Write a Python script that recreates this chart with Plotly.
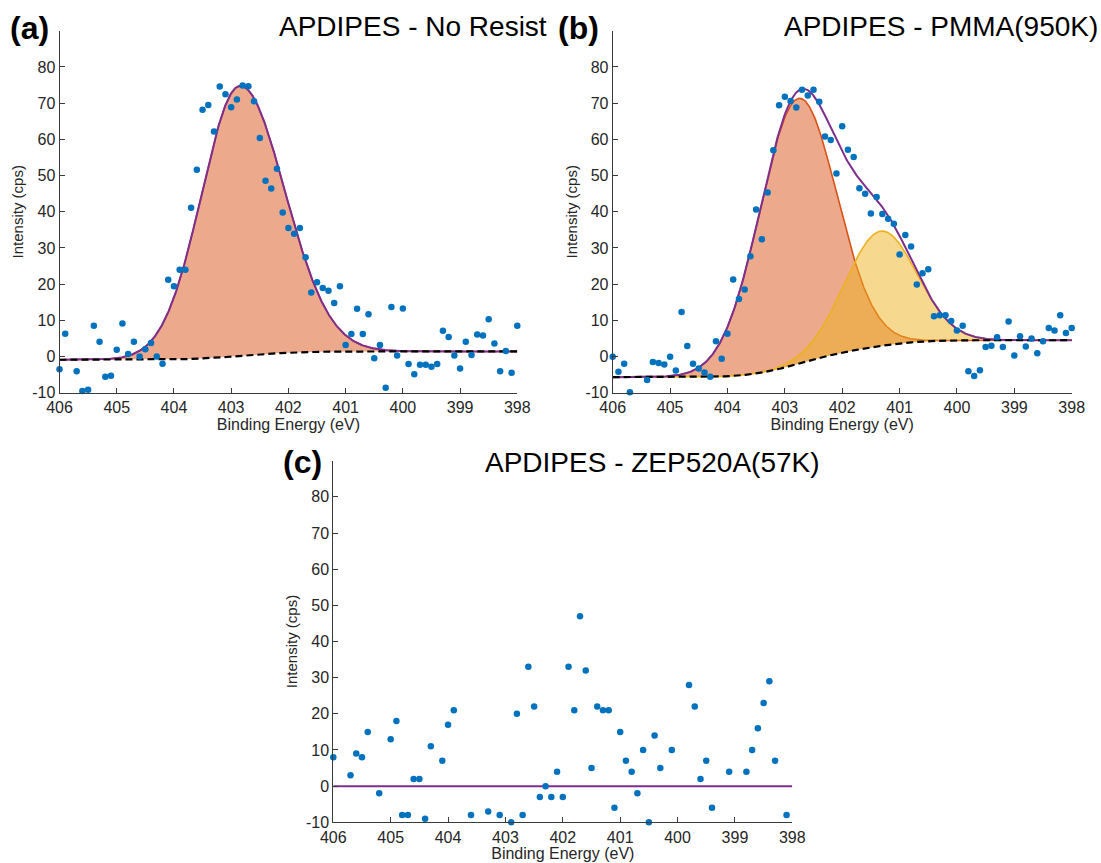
import numpy as np
import plotly.graph_objects as go

# ---------------------------------------------------------------------------
# N 1s spectra: measured points (binding energy in eV, intensity in cps)
# ---------------------------------------------------------------------------
be_a = [406.0, 405.9, 405.7, 405.6, 405.5, 405.4, 405.3, 405.2, 405.1, 405.0,
        404.9, 404.8, 404.7, 404.6, 404.5, 404.4, 404.3, 404.2, 404.1, 404.0,
        403.9, 403.8, 403.7, 403.6, 403.5, 403.4, 403.3, 403.2, 403.1, 403.0,
        402.9, 402.8, 402.7, 402.6, 402.5, 402.4, 402.3, 402.2, 402.1, 402.0,
        401.9, 401.8, 401.7, 401.6, 401.5, 401.4, 401.3, 401.2, 401.1, 401.0,
        400.9, 400.8, 400.7, 400.6, 400.5, 400.4, 400.3, 400.2, 400.1, 400.0,
        399.9, 399.8, 399.7, 399.6, 399.5, 399.4, 399.3, 399.2, 399.1, 399.0,
        398.9, 398.8, 398.7, 398.6, 398.5, 398.4, 398.3, 398.2, 398.1, 398.0]
cps_a = [-3.5, 6.3, -4.1, -9.5, -9.2, 8.5, 4.1, -5.6, -5.3, 1.9,
         9.1, 0.7, 4.1, 0.0, 2.0, 3.7, 0.0, -2.0, 21.2, 19.4,
         24.0, 24.0, 41.1, 51.6, 68.2, 69.5, 62.2, 74.6, 72.5, 68.9,
         71.0, 74.9, 74.7, 70.5, 60.4, 48.6, 46.4, 51.9, 39.8, 35.5,
         33.9, 35.5, 27.4, 17.7, 20.5, 18.9, 18.2, 14.8, 19.4, 3.2,
         6.2, 13.2, 6.2, 11.7, -0.5, 3.2, -8.6, 13.7, 0.3, 13.3,
         -2.1, -4.9, -2.3, -2.3, -2.8, -2.1, 7.1, 5.4, 0.3, -3.3,
         4.1, 0.4, 6.1, 5.8, 10.3, 3.6, -4.1, 1.5, -4.5, 8.5]

be_b = [406.0, 405.9, 405.8, 405.7, 405.4, 405.3, 405.2, 405.1, 405.0,
        404.9, 404.8, 404.7, 404.6, 404.5, 404.4, 404.3, 404.2, 404.1, 404.0,
        403.9, 403.8, 403.7, 403.6, 403.5, 403.4, 403.3, 403.2, 403.1, 403.0,
        402.9, 402.8, 402.7, 402.6, 402.5, 402.4, 402.3, 402.2, 402.1, 402.0,
        401.9, 401.8, 401.7, 401.6, 401.5, 401.4, 401.3, 401.2, 401.1, 401.0,
        400.9, 400.8, 400.7, 400.6, 400.5, 400.4, 400.3, 400.2, 400.1, 400.0,
        399.9, 399.8, 399.7, 399.6, 399.5, 399.4, 399.3, 399.2, 399.1, 399.0,
        398.9, 398.8, 398.7, 398.6, 398.5, 398.4, 398.3, 398.2, 398.1, 398.0]
cps_b = [-0.1, -4.2, -2.0, -9.9, -6.5, -1.5, -1.8, -2.2, -0.1,
         -3.9, 12.3, 2.9, -2.0, -3.3, -4.4, -5.6, 4.2, -0.6, 6.3,
         21.3, 15.9, 18.5, 27.7, 40.6, 32.4, 45.3, 57.0, 69.4, 71.8,
         70.6, 68.8, 73.7, 72.1, 73.7, 70.4, 60.8, 59.8, 50.6, 63.6,
         57.1, 55.1, 46.5, 45.0, 39.5, 44.1, 39.4, 38.1, 36.7, 28.2,
         33.6, 30.4, 19.9, 23.0, 24.1, 11.1, 11.4, 11.4, 9.8, 7.2,
         8.5, -4.1, -5.4, -3.8, 2.6, 3.0, 5.3, 2.6, 9.7, 0.3,
         5.6, 2.8, 5.0, 0.9, 4.2, 7.9, 7.2, 11.4, 6.5, 7.9]

be_c = [406.0, 405.7, 405.6, 405.5, 405.4, 405.2, 405.0, 404.9, 404.8, 404.7,
        404.6, 404.5, 404.4, 404.3, 404.1, 404.0, 403.9, 403.6, 403.3, 403.1,
        402.9, 402.8, 402.7, 402.6, 402.5, 402.4, 402.3, 402.2, 402.1, 402.0,
        401.9, 401.8, 401.7, 401.6, 401.5, 401.4, 401.3, 401.2, 401.1, 401.0,
        400.9, 400.8, 400.7, 400.6, 400.5, 400.4, 400.3, 400.1, 399.8, 399.7,
        399.6, 399.5, 399.4, 399.1, 398.8, 398.7, 398.6, 398.5, 398.4, 398.3,
        398.1]
cps_c = [8, 3, 9, 8, 15, -2, 13, 18, -8, -8,
         2, 2, -9, 11, 7, 17, 21, -8, -7, -8,
         -10, 20, -8, 33, 22, -3, 0, -3, 4, -3,
         33, 21, 47, 32, 5, 22, 21, 21, -6, 15,
         7, 4, -2, 10, -10, 14, 5, 10, 28, 22,
         2, 7, -6, 4, 4, 10, 16, 23, 29, 7,
         -8]

# ---------------------------------------------------------------------------
# Fitted peak parameters: centre (eV), height (cps), width on the high / low
# binding-energy side (eV); Shirley end points on the high / low BE side
# ---------------------------------------------------------------------------
peak_a = dict(center=402.85, height=74.6, sig_hi=0.67, sig_lo=0.78)
shirley_a = (-0.9, 1.4)

peak_b1 = dict(center=402.77, height=73.3, sig_hi=0.67, sig_lo=0.67)
peak_b2 = dict(center=401.33, height=31.7, sig_hi=0.62, sig_lo=0.62)
shirley_b = (-5.7, 4.5)

flat_c = 0.0

x_ticks = [406, 405, 404, 403, 402, 401, 400, 399, 398]
y_ticks = [-10, 0, 10, 20, 30, 40, 50, 60, 70, 80, 90]
y_tick_text = ["-10", "0", "10", "20", "30", "40", "50", "60", "70", "80", ""]

titles = ["APDIPES - No Resist", "APDIPES - PMMA(950K)", "APDIPES - ZEP520A(57K)"]
letters = ["(a)", "(b)", "(c)"]

# MATLAB default colour order
BLUE = "#0072BD"
RED = "#D95319"
YELLOW = "#EDB120"
PURPLE = "#7E2F8E"

FONT = "Liberation Sans, Arial, Helvetica, sans-serif"
TXT = "#262626"

grid = np.linspace(406.0, 398.0, 801)


def peak(x, center, height, sig_hi, sig_lo):
    s = np.where(x >= center, sig_hi, sig_lo)
    return height * np.exp(-0.5 * ((x - center) / s) ** 2)


def shirley(x, comps, ends):
    hi, lo = ends
    tot = np.sum(comps, axis=0)
    step = 0.5 * (tot[1:] + tot[:-1]) * np.abs(np.diff(x))
    cum = np.concatenate([[0.0], np.cumsum(step)])
    return hi + (lo - hi) * cum / cum[-1]


fig = go.Figure()


def add_fit(xa, ya, comps, colors, bg):
    for comp, col in zip(comps, colors):
        r, g, b = int(col[1:3], 16), int(col[3:5], 16), int(col[5:7], 16)
        fig.add_trace(go.Scatter(x=grid, y=bg, mode="lines", line=dict(width=0),
                                 xaxis=xa, yaxis=ya, hoverinfo="skip", showlegend=False))
        fig.add_trace(go.Scatter(x=grid, y=bg + comp, mode="lines", fill="tonexty",
                                 fillcolor=f"rgba({r},{g},{b},0.5)",
                                 line=dict(color=col, width=1.6),
                                 xaxis=xa, yaxis=ya, showlegend=False))
    fig.add_trace(go.Scatter(x=grid, y=bg + np.sum(comps, axis=0), mode="lines",
                             line=dict(color=PURPLE, width=2),
                             xaxis=xa, yaxis=ya, showlegend=False))
    fig.add_trace(go.Scatter(x=grid, y=bg, mode="lines",
                             line=dict(color="black", width=2.2, dash="7px,4px"),
                             xaxis=xa, yaxis=ya, showlegend=False))


def add_points(xa, ya, x, y):
    fig.add_trace(go.Scatter(x=x, y=y, mode="markers",
                             marker=dict(color=BLUE, size=6.5, line=dict(width=0)),
                             cliponaxis=False, xaxis=xa, yaxis=ya, showlegend=False))


# (a) single component
ca = peak(grid, **peak_a)
bga = shirley(grid, [ca], shirley_a)
add_fit("x", "y", [ca], [RED], bga)
add_points("x", "y", be_a, cps_a)

# (b) two components
cb1 = peak(grid, **peak_b1)
cb2 = peak(grid, **peak_b2)
bgb = shirley(grid, [cb1, cb2], shirley_b)
add_fit("x2", "y2", [cb1, cb2], [RED, YELLOW], bgb)
add_points("x2", "y2", be_b, cps_b)

# (c) no N 1s signal: flat envelope
fig.add_trace(go.Scatter(x=[406.0, 398.0], y=[flat_c, flat_c], mode="lines",
                         line=dict(color=PURPLE, width=2),
                         xaxis="x3", yaxis="y3", showlegend=False))
add_points("x3", "y3", be_c, cps_c)

# ---------------------------------------------------------------------------
# Layout
# ---------------------------------------------------------------------------
W, H = 1101, 863


def dx(left, right):
    return [left / W, right / W]


def dy(top, bottom):
    return [1 - bottom / H, 1 - top / H]


def xaxis(dom, anchor):
    return dict(domain=dom, anchor=anchor, range=[406, 398], tickvals=x_ticks,
                automargin=False,
                showline=True, linecolor="#3a3a3a", linewidth=1,
                ticks="inside", ticklen=5, tickcolor="#3a3a3a",
                tickfont=dict(family=FONT, size=16, color=TXT),
                title=dict(text="Binding Energy (eV)", standoff=2,
                           font=dict(family=FONT, size=16, color=TXT)),
                showgrid=False, zeroline=False)


def yaxis(dom, anchor):
    return dict(domain=dom, anchor=anchor, range=[-10, 90], tickvals=y_ticks,
                ticktext=y_tick_text, automargin=False,
                showline=True, linecolor="#3a3a3a", linewidth=1,
                ticks="inside", ticklen=5, tickcolor="#3a3a3a",
                tickfont=dict(family=FONT, size=16, color=TXT),
                title=dict(text="Intensity (cps)", standoff=4,
                           font=dict(family=FONT, size=15, color=TXT)),
                showgrid=False, zeroline=False)


top_ab, bot_ab = 30.8, 392.7
top_c, bot_c = 460.7, 822.3

fig.update_layout(
    width=W, height=H,
    margin=dict(l=0, r=0, t=0, b=0, autoexpand=False),
    paper_bgcolor="white", plot_bgcolor="white",
    showlegend=False,
    xaxis=xaxis(dx(59.5, 517.3), "y"),
    yaxis=yaxis(dy(top_ab, bot_ab), "x"),
    xaxis2=xaxis(dx(612.7, 1071.7), "y2"),
    yaxis2=yaxis(dy(top_ab, bot_ab), "x2"),
    xaxis3=xaxis(dx(333.3, 792.3), "y3"),
    yaxis3=yaxis(dy(top_c, bot_c), "x3"),
)

title_pos = [(412.5, 27), (940.5, 27), (652.5, 462)]
letter_pos = [(29, 28), (578, 28), (302, 462)]
for text, (px, py) in zip(titles, title_pos):
    fig.add_annotation(x=px / W, y=1 - py / H, xref="paper", yref="paper",
                       text=text, showarrow=False, xanchor="center", yanchor="middle",
                       font=dict(family=FONT, size=28, color="black"))
for text, (px, py) in zip(letters, letter_pos):
    fig.add_annotation(x=px / W, y=1 - py / H, xref="paper", yref="paper",
                       text=f"<b>{text}</b>", showarrow=False, xanchor="center",
                       yanchor="middle", font=dict(family=FONT, size=32, color="black"))

fig.write_html("out.html")
